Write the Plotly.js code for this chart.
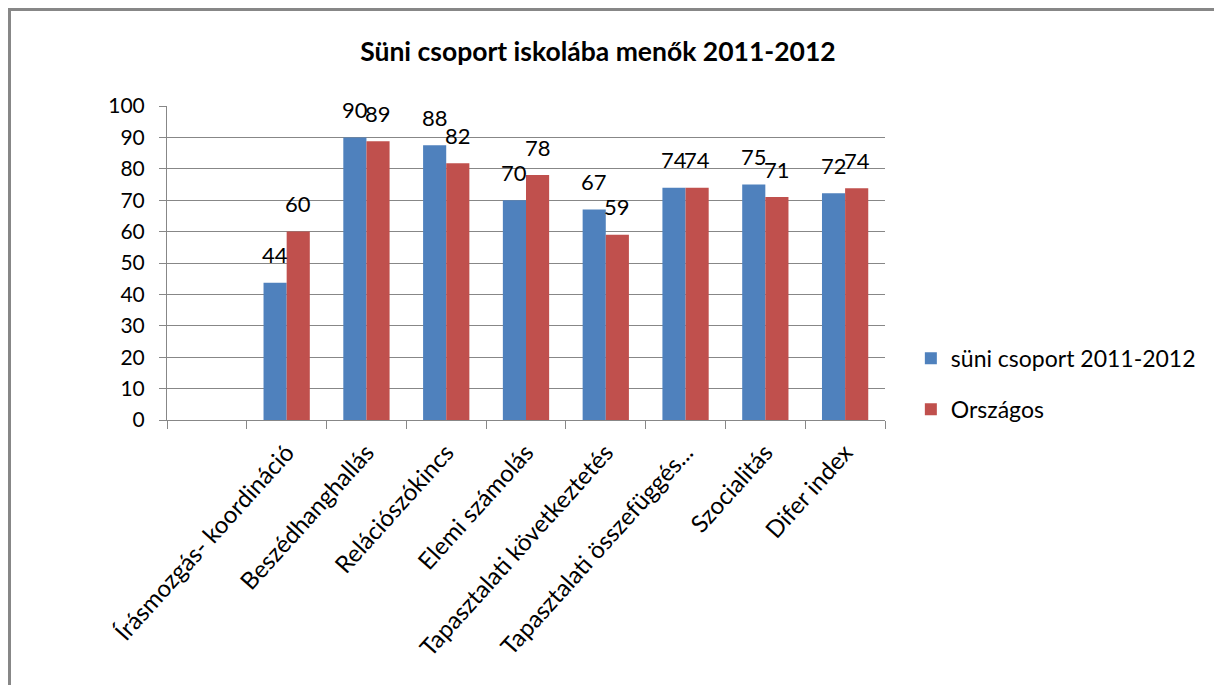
<!DOCTYPE html>
<html>
<head>
<meta charset="utf-8">
<script src="https://cdn.plot.ly/plotly-3.0.1.min.js"></script>
<style>
  html, body { margin: 0; padding: 0; background: #fff; }
  #wrap { position: relative; width: 1214px; height: 685px; overflow: hidden; }
  #chart { position: absolute; left: 0; top: 0; width: 1214px; height: 685px; }
  #frame { position: absolute; left: 8px; top: 8px; width: 1300px; height: 800px;
           border-left: 3px solid #878787; border-top: 3px solid #878787; pointer-events: none; }
</style>
</head>
<body>
<div id="wrap">
  <div id="chart"></div>
  <div id="frame"></div>
</div>
<script>
const categories = [" ", "Írásmozgás- koordináció", "Beszédhanghallás", "Relációszókincs", "Elemi számolás",
  "Tapasztalati következtetés", "Tapasztalati összefüggés...", "Szocialitás", "Difer index"];
const suniValues = [null, 43.7, 90, 87.5, 70, 67, 74, 75, 72.2];
const orszagosValues = [null, 60, 88.8, 81.8, 78, 59, 74, 71, 73.8];
const seriesNames = ["süni csoport 2011-2012", "Országos"];
const yTicks = [0, 10, 20, 30, 40, 50, 60, 70, 80, 90, 100];

const FONT = "Lato, Calibri, 'Open Sans', sans-serif";
const margin = {l: 167, r: 329, t: 106, b: 265};
const W = 1214, H = 685;
const bargap = 0.42;
const catPx = (W - margin.l - margin.r) / categories.length;
const off = (1 - bargap) / 4 * catPx;

const annotations = [];
[suniValues, orszagosValues].forEach((vals, s) => {
  vals.forEach((v, i) => {
    if (v === null) return;
    annotations.push({
      x: categories[i], y: v, xref: 'x', yref: 'y',
      xshift: s === 0 ? -off : off, yshift: 28,
      text: String(Math.round(v)), showarrow: false,
      yanchor: 'middle', xanchor: 'center',
      font: {family: FONT, size: 22, color: '#000'}
    });
  });
});

const traces = [
  {type: 'bar', x: categories, y: suniValues, name: seriesNames[0], marker: {color: '#4F81BD'}, legendgroup: 'a', hoverinfo: 'none'},
  {type: 'bar', x: categories, y: orszagosValues, name: seriesNames[1], marker: {color: '#C0504D'}, legendgroup: 'b', hoverinfo: 'none'}
];

const layout = {
  width: W, height: H,
  margin: margin,
  paper_bgcolor: '#fff', plot_bgcolor: '#fff',
  barmode: 'group', bargap: bargap, bargroupgap: 0,
  font: {family: FONT, color: '#000'},
  title: {text: '<b>Süni csoport iskolába menők 2011-2012</b>', x: 0.4925, xanchor: 'center', y: 0.924, yanchor: 'middle',
          font: {family: FONT, size: 26.5, color: '#000'}},
  xaxis: {
    type: 'category', categoryorder: 'array', categoryarray: categories,
    tickangle: -48, tickson: 'boundaries', ticks: 'outside', ticklen: 8, tickcolor: '#878787',
    showline: true, linecolor: '#878787', linewidth: 1, showgrid: false, ticklabelstandoff: 8,
    tickfont: {family: FONT, size: 24, color: '#000'}, fixedrange: true
  },
  yaxis: {
    range: [0, 100], tickvals: yTicks, ticktext: yTicks.map(String),
    ticks: 'outside', ticklen: 7, tickcolor: '#878787', ticklabelstandoff: 10,
    showline: true, linecolor: '#878787', linewidth: 1,
    showgrid: true, gridcolor: '#878787', gridwidth: 1, zeroline: false,
    tickfont: {family: FONT, size: 21, color: '#000'}, fixedrange: true
  },
  showlegend: true,
  legend: {x: 1.036, xanchor: 'left', y: 0.265, yanchor: 'top', tracegroupgap: 18,
           font: {family: FONT, size: 23, color: '#000'}, bgcolor: 'rgba(0,0,0,0)', itemwidth: 30},
  annotations: annotations
};

Plotly.newPlot('chart', traces, layout, {displayModeBar: false, staticPlot: true});
</script>
</body>
</html>
